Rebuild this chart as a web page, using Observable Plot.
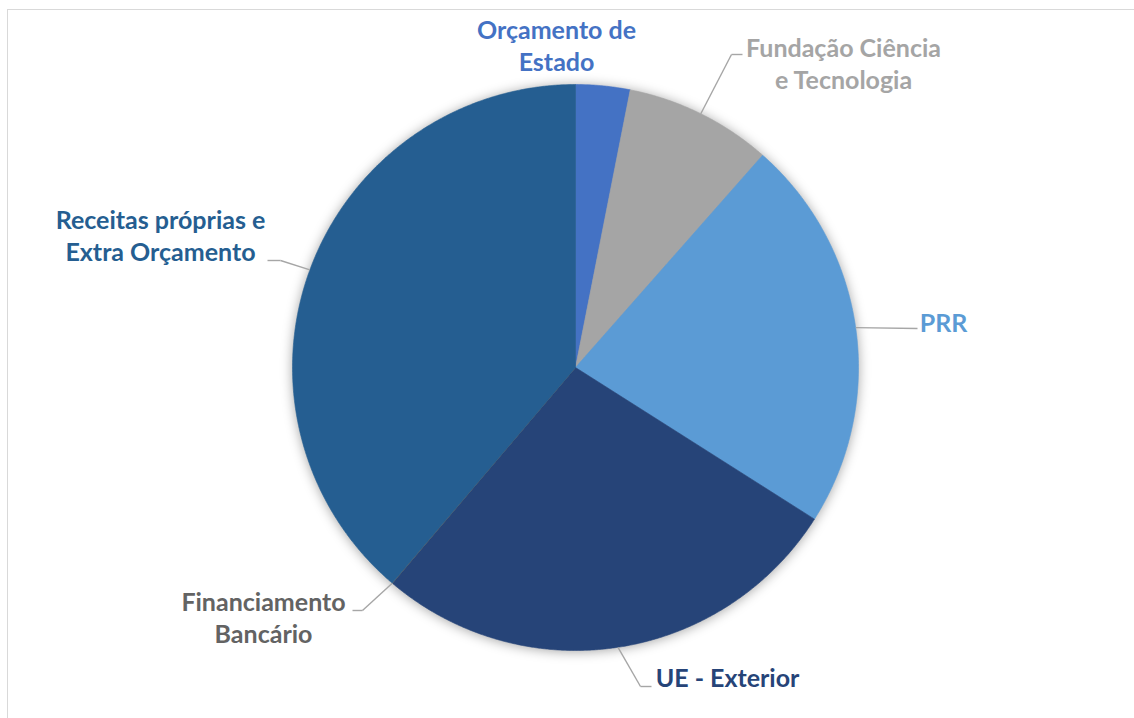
<!DOCTYPE html>
<html><head><meta charset="utf-8">
<script src="https://cdn.jsdelivr.net/npm/d3@7"></script>
<script src="https://cdn.jsdelivr.net/npm/@observablehq/plot@0.6"></script>
<style>
html,body{margin:0;padding:0;background:#fff;overflow:hidden;}
#frame{position:absolute;left:7px;top:9px;width:1300px;height:900px;border:1.5px solid #d9d9d9;box-sizing:border-box;}
#chart{position:absolute;left:0;top:0;}
#chart svg g[aria-label="line"]{filter:drop-shadow(0px 1px 6px rgba(0,0,0,0.35));}
</style></head><body>
<div id="frame"></div><div id="chart"></div>
<script>
// ---- data ----
const categories = ["Orçamento de Estado","Fundação Ciência e Tecnologia","PRR","UE - Exterior","Financiamento Bancário","Receitas próprias e Extra Orçamento"];
const labelText = ["Orçamento de\nEstado","Fundação Ciência\ne Tecnologia","PRR","UE - Exterior","Financiamento\nBancário","Receitas próprias e\nExtra Orçamento"];
const shares = [3.1, 8.4, 22.5, 27.2, 0.02, 38.78];
const colors = ["#4472C4","#A5A5A5","#5B9BD5","#264478","#636363","#255E91"];

// ---- layout (pixels) ----
const W = 1134, H = 718, CX = 575, CY = 367, R = 283;
const labelPos = [[556,44],[843,62],[943,321],[727,676],[263,616],[160,234]];
const leaderStart = [null, [[742,54],[731,54]], [[917,328]], [[651,686],[640,686]], [[352,610],[362,610]], [[267,260],[280,260]]];
const toU = px => (px - CX) / R, toV = py => (CY - py) / R;

// ---- pie geometry ----
const arcs = d3.pie().sort(null).value(d => d)(shares);
const slicePts = [];
arcs.forEach((a, i) => {
  slicePts.push({cat: categories[i], color: colors[i], x: 0, y: 0});
  const n = Math.max(2, Math.ceil((a.endAngle - a.startAngle) / 0.005));
  for (let k = 0; k <= n; k++) {
    const t = a.startAngle + (a.endAngle - a.startAngle) * k / n;
    slicePts.push({cat: categories[i], color: colors[i], x: Math.sin(t), y: Math.cos(t)});
  }
  slicePts.push({cat: categories[i], color: colors[i], x: 0, y: 0});
});

const labels = labelText.map((t, i) => ({text: t, color: colors[i], x: toU(labelPos[i][0]), y: toV(labelPos[i][1])}));

const leaderSegs = [];
arcs.forEach((a, i) => {
  if (!leaderStart[i]) return;
  const mid = (a.startAngle + a.endAngle) / 2;
  const pts = leaderStart[i].map(([px, py]) => [toU(px), toV(py)]);
  pts.push([Math.sin(mid), Math.cos(mid)]);
  for (let k = 0; k < pts.length - 1; k++)
    leaderSegs.push({x1: pts[k][0], y1: pts[k][1], x2: pts[k+1][0], y2: pts[k+1][1]});
});

const chart = Plot.plot({
  width: W, height: H, margin: 0,
  x: {domain: [toU(0), toU(W)], axis: null},
  y: {domain: [toV(H), toV(0)], axis: null},
  color: {type: "identity"},
  marks: [
    Plot.line(slicePts, {x: "x", y: "y", z: "cat", fill: "color", stroke: "color", strokeWidth: 0.6, curve: "linear"}),
    Plot.link(leaderSegs, {x1: "x1", y1: "y1", x2: "x2", y2: "y2", stroke: "#A6A6A6", strokeWidth: 1.4}),
    Plot.text(labels, {x: "x", y: "y", text: "text", fill: "color", fontSize: 25, fontWeight: "bold", fontFamily: "Lato", textAnchor: "middle", lineAnchor: "middle", lineHeight: 1.29})
  ]
});
chart.style.background = "transparent";
document.getElementById("chart").appendChild(chart);
</script>
</body></html>
